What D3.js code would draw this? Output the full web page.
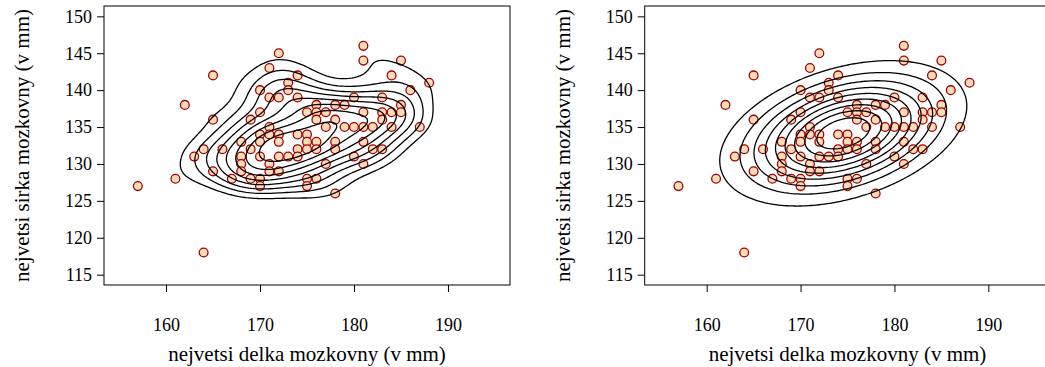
<!DOCTYPE html>
<html>
<head>
<meta charset="utf-8">
<script src="https://cdn.jsdelivr.net/npm/d3@7"></script>
<style>
  body { margin: 0; background: #fff; }
  svg { display: block; }
  text { font-family: "Liberation Serif", "Times New Roman", serif; fill: #000; }
</style>
</head>
<body>
<svg id="chart" width="1045" height="367"></svg>
<script>
// nejvetsi delka / sirka mozkovny (mm)
const delka = [157,161,162,163,164,164,165,165,165,166,167,
  168,168,168,168,169,169,169,
  170,170,170,170,170,170,170,
  171,171,171,171,171,171,
  172,172,172,172,172,172,
  173,173,173,
  174,174,174,174,174,
  175,175,175,175,175,175,
  176,176,176,176,176,176,
  177,177,177,
  178,178,178,178,178,
  179,179,
  180,180,180,
  181,181,181,181,181,181,
  182,182,
  183,183,183,183,
  184,184,184,
  185,185,185,
  186,187,188];
const sirka = [127,128,138,131,132,118,142,136,129,132,128,
  133,131,130,129,136,132,128,
  140,137,134,133,131,128,127,
  143,139,135,134,130,129,
  145,139,134,133,131,129,
  141,140,131,
  142,139,134,132,131,
  137,134,133,132,128,127,
  138,137,136,133,132,128,
  137,135,130,
  138,136,133,132,126,
  138,135,
  139,135,131,
  146,144,137,135,133,130,
  135,132,
  139,137,136,132,
  142,137,135,
  144,138,137,
  140,135,141];

// fitted normal of the right panel
const normMean = [174.55, 134.15];
const normSd = [6.13, 4.59];
const normR = 0.375;

// contour levels as fractions of the peak density
const kdeLevels = [0.2, 0.3, 0.4, 0.5, 0.6, 0.7, 0.8, 0.9, 1.0];
const normLevels = [0.1, 0.2, 0.3, 0.4, 0.5, 0.6, 0.7, 0.8, 0.9, 1.0];

const xTicks = [160, 170, 180, 190];
const yTicks = [115, 120, 125, 130, 135, 140, 145, 150];
const xLim = [155, 195], yLim = [115, 150];
const xTitle = "nejvetsi delka mozkovny (v mm)";
const yTitle = "nejvetsi sirka mozkovny (v mm)";

const svg = d3.select("#chart");
const TICK_FS = 18, LAB_FS = 21;
const GRID = 140;

const pts = delka.map((d, i) => ({ x: d, y: sirka[i] }));

function gridOf(fn) {
  const vals = new Array(GRID * GRID);
  const gx = d3.scaleLinear().domain([0, GRID - 1]).range(xLim);
  const gy = d3.scaleLinear().domain([0, GRID - 1]).range(yLim);
  for (let j = 0; j < GRID; j++)
    for (let i = 0; i < GRID; i++) vals[j * GRID + i] = fn(gx(i), gy(j));
  return { vals, gx, gy };
}

// kde2d-like estimate
function kdeFn() {
  const n = pts.length;
  const bw = v => {
    const s = d3.deviation(v);
    const srt = v.slice().sort(d3.ascending);
    const q = d3.quantile(srt, 0.75) - d3.quantile(srt, 0.25);
    return 1.06 * Math.min(s, q / 1.34) * Math.pow(n, -0.2);
  };
  const hx = bw(delka), hy = bw(sirka);
  return (x, y) => {
    let s = 0;
    for (const p of pts) {
      const a = (x - p.x) / hx, b = (y - p.y) / hy;
      s += Math.exp(-0.5 * (a * a + b * b));
    }
    return s / (n * 2 * Math.PI * hx * hy);
  };
}

function normFn() {
  const [mx, my] = normMean, [sx, sy] = normSd, r = normR;
  return (x, y) => {
    const a = (x - mx) / sx, b = (y - my) / sy;
    const q = (a * a - 2 * r * a * b + b * b) / (1 - r * r);
    return Math.exp(-q / 2) / (2 * Math.PI * sx * sy * Math.sqrt(1 - r * r));
  };
}

function panel(left, right, fn, fracs) {
  const x = d3.scaleLinear().domain([xLim[0] - 1.6, xLim[1] + 1.6]).range([left, right]);
  const y = d3.scaleLinear().domain([yLim[0] - 1.4, yLim[1] + 1.4]).range([285, 6]);
  const g = svg.append("g");

  const grid = gridOf(fn);
  const zmax = d3.max(grid.vals);
  const levels = fracs.map(f => f * zmax);
  const contours = d3.contours().size([GRID, GRID]).thresholds(levels)(grid.vals);
  const proj = d3.geoTransform({
    point(px, py) { this.stream.point(x(grid.gx(px - 0.5)), y(grid.gy(py - 0.5))); }
  });
  const path = d3.geoPath(proj);

  g.append("g").selectAll("circle").data(pts).join("circle")
    .attr("cx", d => x(d.x)).attr("cy", d => y(d.y)).attr("r", 4.4)
    .attr("fill", "#ffdcb8").attr("stroke", "#a00000").attr("stroke-width", 1.3);

  g.append("g").selectAll("path").data(contours).join("path")
    .attr("d", path).attr("fill", "none").attr("stroke", "#000").attr("stroke-width", 1.3);

  g.append("rect").attr("x", left).attr("y", 6).attr("width", right - left).attr("height", 279)
    .attr("fill", "none").attr("stroke", "#000").attr("stroke-width", 1);

  const xa = g.append("g").attr("transform", "translate(0,285)")
    .call(d3.axisBottom(x).tickValues(xTicks).tickSize(7).tickPadding(26).tickFormat(d3.format("d")));
  const ya = g.append("g").attr("transform", `translate(${left},0)`)
    .call(d3.axisLeft(y).tickValues(yTicks).tickSize(7).tickPadding(5).tickFormat(d3.format("d")));
  [xa, ya].forEach(a => {
    a.select(".domain").remove();
    a.selectAll("line").attr("stroke", "#000");
    a.selectAll("text").style("font-size", TICK_FS + "px").style("font-family", "Liberation Serif");
  });

  g.append("text").attr("x", (left + right) / 2).attr("y", 361)
    .attr("text-anchor", "middle").style("font-size", LAB_FS + "px").text(xTitle);
  g.append("text").attr("transform", `translate(${left - 75},${145.5}) rotate(-90)`)
    .attr("text-anchor", "middle").style("font-size", LAB_FS + "px").text(yTitle);
}

panel(104, 510, kdeFn(), kdeLevels);
panel(644.7, 1050.3, normFn(), normLevels);
</script>
</body>
</html>
